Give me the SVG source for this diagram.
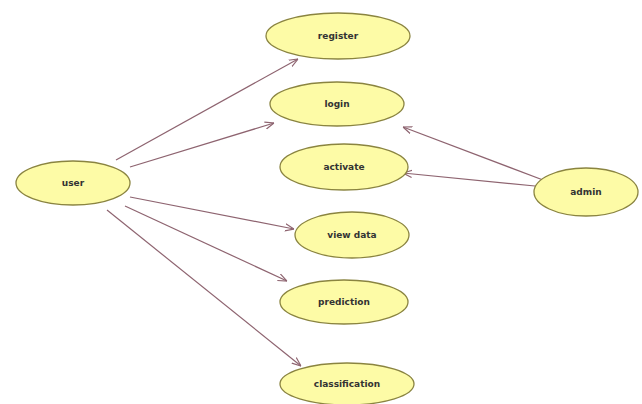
<svg xmlns="http://www.w3.org/2000/svg" width="642" height="404" viewBox="0 0 642 404">
<defs>
<style>
.uc{fill:#fdfba6;stroke:#8a8440;stroke-width:1.3}
.lb{font-family:"DejaVu Sans",sans-serif;font-size:9px;font-weight:bold;fill:#333;text-anchor:middle;dominant-baseline:central}
.cn{stroke:#8e6470;stroke-width:1.2;fill:none;marker-end:url(#ah)}
</style>
<marker id="ah" viewBox="0 0 10 10" refX="10" refY="5" markerWidth="9" markerHeight="9" markerUnits="userSpaceOnUse" orient="auto">
<path d="M0,1 L10,5 L0,9" fill="none" stroke="#8e6470" stroke-width="1.3"/>
</marker>
</defs>
<rect width="642" height="404" fill="#fff"/>
<g id="connectors">
<line class="cn" x1="116" y1="160" x2="298" y2="59"/>
<line class="cn" x1="130" y1="167" x2="274" y2="123"/>
<line class="cn" x1="130" y1="197" x2="294" y2="229"/>
<line class="cn" x1="125" y1="206" x2="287" y2="281"/>
<line class="cn" x1="107" y1="210" x2="301" y2="366"/>
<line class="cn" x1="543" y1="180" x2="403" y2="127"/>
<line class="cn" x1="535" y1="186" x2="403" y2="173"/>
</g>
<g id="user"><ellipse class="uc" cx="73" cy="183" rx="57" ry="22"/><text class="lb" x="73" y="183">user</text></g>
<g id="register"><ellipse class="uc" cx="338" cy="36" rx="72" ry="23"/><text class="lb" x="338" y="36">register</text></g>
<g id="login"><ellipse class="uc" cx="337" cy="104" rx="67" ry="22"/><text class="lb" x="337" y="104">login</text></g>
<g id="activate"><ellipse class="uc" cx="344" cy="167" rx="64" ry="23"/><text class="lb" x="344" y="167">activate</text></g>
<g id="viewdata"><ellipse class="uc" cx="352" cy="235" rx="57" ry="23"/><text class="lb" x="352" y="235">view data</text></g>
<g id="prediction"><ellipse class="uc" cx="344" cy="302" rx="64" ry="22"/><text class="lb" x="344" y="302">prediction</text></g>
<g id="classification"><ellipse class="uc" cx="347" cy="384" rx="67" ry="21"/><text class="lb" x="347" y="384">classification</text></g>
<g id="admin"><ellipse class="uc" cx="586" cy="192" rx="52" ry="24"/><text class="lb" x="586" y="192">admin</text></g>
</svg>
